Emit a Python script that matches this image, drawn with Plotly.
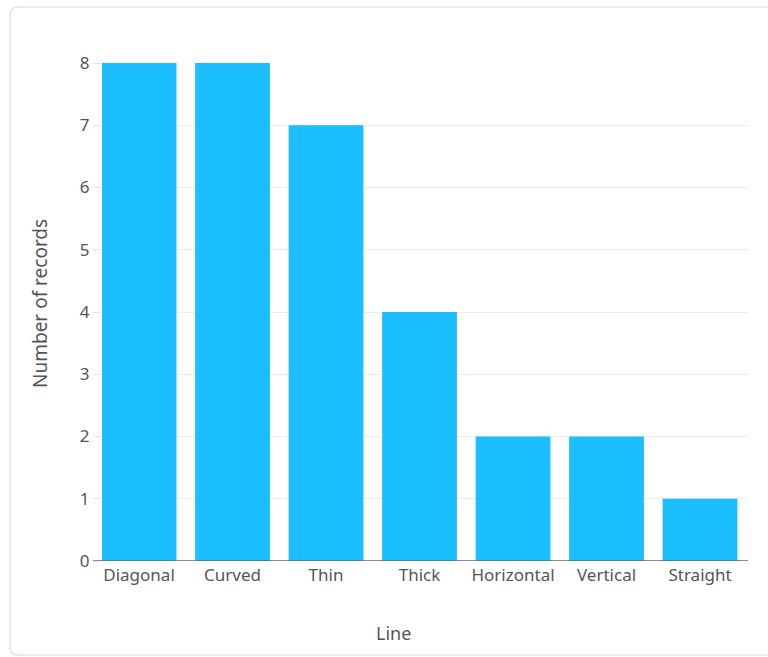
import plotly.graph_objects as go

categories = ["Diagonal", "Curved", "Thin", "Thick", "Horizontal", "Vertical", "Straight"]
record_counts = [8, 8, 7, 4, 2, 2, 1]
y_ticks = [0, 1, 2, 3, 4, 5, 6, 7, 8]

W, H = 768, 657
ML, MR, MT, MB = 102, 20, 63, 96
PW, PH = W - ML - MR, H - MT - MB


def px_to_paper_x(px):
    return (px - ML) / PW


def px_to_paper_y(py):
    return (H - MB - py) / PH


# rounded card outline behind the chart, in paper units
x0, x1 = px_to_paper_x(10), px_to_paper_x(776)
y0, y1 = px_to_paper_y(655), px_to_paper_y(7)
rx, ry = 8 / PW, 8 / PH
card_path = (
    f"M {x0 + rx},{y1} L {x1 - rx},{y1} Q {x1},{y1} {x1},{y1 - ry} "
    f"L {x1},{y0 + ry} Q {x1},{y0} {x1 - rx},{y0} "
    f"L {x0 + rx},{y0} Q {x0},{y0} {x0},{y0 + ry} "
    f"L {x0},{y1 - ry} Q {x0},{y1} {x0 + rx},{y1} Z"
)

font_family = "Segoe UI, Noto Sans, Open Sans, sans-serif"
text_color = "#555555"

fig = go.Figure(
    go.Bar(
        x=categories,
        y=record_counts,
        marker=dict(color="#1bbeff", line=dict(width=0)),
        hovertemplate="%{x}: %{y}<extra></extra>",
    )
)

fig.update_layout(
    width=W,
    height=H,
    margin=dict(l=ML, r=MR, t=MT, b=MB),
    paper_bgcolor="white",
    plot_bgcolor="white",
    bargap=0.2,
    showlegend=False,
    font=dict(family=font_family, color=text_color, size=17),
    shapes=[
        dict(
            type="path", path=card_path, xref="paper", yref="paper",
            line=dict(color="#e3e3e3", width=1.5), fillcolor="rgba(0,0,0,0)",
            layer="below",
        ),
        dict(
            type="line", xref="paper", yref="y",
            x0=px_to_paper_x(93), x1=1, y0=0, y1=0,
            line=dict(color="#666666", width=1.5), layer="above",
        ),
    ],
    annotations=[
        dict(
            text="Line", xref="paper", yref="paper",
            x=px_to_paper_x(393), y=px_to_paper_y(633),
            xanchor="center", yanchor="middle", showarrow=False,
            font=dict(size=18, color=text_color),
        ),
        dict(
            text="Number of records", xref="paper", yref="paper",
            x=px_to_paper_x(40), y=px_to_paper_y(304),
            xanchor="center", yanchor="middle", showarrow=False,
            textangle=-90,
            font=dict(size=19, color=text_color),
        ),
    ],
)

fig.update_xaxes(
    range=[-0.396, 6.513],
    showgrid=False,
    showline=False,
    ticks="",
    ticklabelstandoff=2,
    tickfont=dict(size=17, color=text_color),
)

fig.update_yaxes(
    range=[0, 8],
    tickvals=y_ticks,
    showgrid=True,
    gridcolor="#ececec",
    gridwidth=1,
    zeroline=False,
    showline=False,
    ticks="outside",
    ticklen=8,
    tickcolor="#e6e6e6",
    tickfont=dict(size=17, color=text_color),
)

fig.write_html("out.html")
